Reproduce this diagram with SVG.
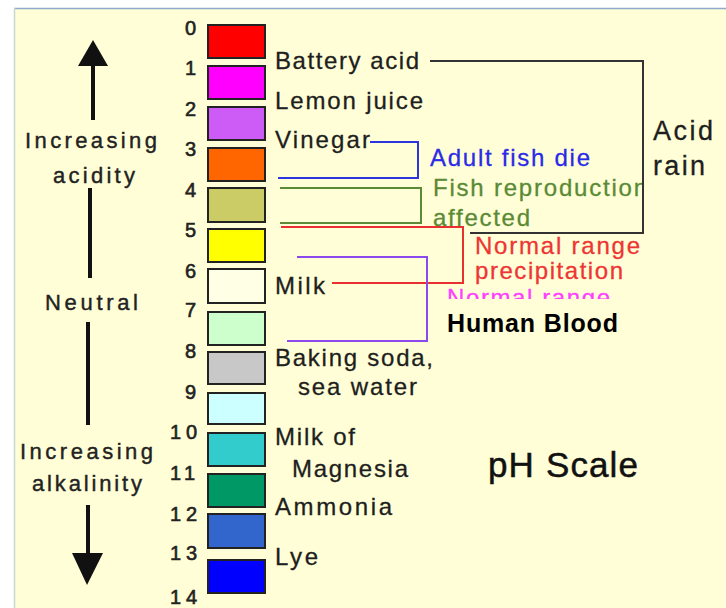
<svg xmlns="http://www.w3.org/2000/svg" width="726" height="608" viewBox="0 0 726 608">
<style>
.lbl{font-family:"Liberation Sans",Arial,sans-serif;font-size:24px;fill:#1e1e1e;stroke:#1e1e1e;stroke-width:0.3}
.num{font-family:"Liberation Sans",Arial,sans-serif;font-size:20px;fill:#222;stroke:#222;stroke-width:0.6}
.side{font-family:"Liberation Sans",Arial,sans-serif;font-size:22px;fill:#222;stroke:#222;stroke-width:0.4}
.box{stroke:#222;stroke-width:2}
.br{fill:none;stroke-width:2}
</style>
<defs>
<clipPath id="clipNR"><rect x="440" y="285" width="200" height="14"/></clipPath>
<clipPath id="clipFR"><rect x="420" y="170" width="222" height="40"/></clipPath>
</defs>
<rect x="0" y="0" width="726" height="608" fill="#ffffff"/>
<rect x="14" y="8" width="712" height="600" fill="#fffed6"/>
<line x1="14" y1="8.5" x2="726" y2="8.5" stroke="#8fa9cf" stroke-width="1.5"/>
<line x1="14.5" y1="8" x2="14.5" y2="608" stroke="#c8d8d0" stroke-width="1.5"/>

<g id="scale-left">
<rect x="91" y="62" width="4" height="58" fill="#111"/>
<polygon points="93,40 78,66 108,66" fill="#111"/>
<text class="side" x="25" y="148" textLength="132" lengthAdjust="spacing">Increasing</text>
<text class="side" x="53" y="183" textLength="82" lengthAdjust="spacing">acidity</text>
<rect x="88" y="188" width="4" height="90" fill="#111"/>
<text class="side" x="45" y="310" textLength="93" lengthAdjust="spacing">Neutral</text>
<rect x="86" y="322" width="4" height="103" fill="#111"/>
<text class="side" x="20" y="459" textLength="133" lengthAdjust="spacing">Increasing</text>
<text class="side" x="32" y="491" textLength="110" lengthAdjust="spacing">alkalinity</text>
<rect x="86" y="505" width="4" height="50" fill="#111"/>
<polygon points="72,553 103,553 87,585" fill="#111"/>
</g>

<g id="numbers">
<text class="num" x="185" y="35">0</text>
<text class="num" x="185" y="75">1</text>
<text class="num" x="185" y="116">2</text>
<text class="num" x="185" y="156">3</text>
<text class="num" x="185" y="197">4</text>
<text class="num" x="185" y="237">5</text>
<text class="num" x="185" y="278">6</text>
<text class="num" x="185" y="317">7</text>
<text class="num" x="185" y="358">8</text>
<text class="num" x="185" y="399">9</text>
<text class="num" x="170" y="439" textLength="27" lengthAdjust="spacing">10</text>
<text class="num" x="170" y="480" textLength="25" lengthAdjust="spacing">11</text>
<text class="num" x="170" y="521" textLength="27" lengthAdjust="spacing">12</text>
<text class="num" x="170" y="560" textLength="27" lengthAdjust="spacing">13</text>
<text class="num" x="170" y="604" textLength="27" lengthAdjust="spacing">14</text>
</g>

<g id="ph0"><rect class="box" x="208" y="25" width="57" height="33" fill="#ff0000"/></g>
<g id="ph1"><rect class="box" x="208" y="66" width="57" height="33" fill="#ff00ff"/></g>
<g id="ph2"><rect class="box" x="208" y="107" width="57" height="33" fill="#cc5cf5"/></g>
<g id="ph3"><rect class="box" x="208" y="148" width="57" height="33" fill="#ff6600"/></g>
<g id="ph4"><rect class="box" x="208" y="188" width="57" height="34" fill="#cccc66"/></g>
<g id="ph5"><rect class="box" x="208" y="229" width="57" height="33" fill="#ffff00"/></g>
<g id="ph6"><rect class="box" x="208" y="269" width="57" height="34" fill="#ffffe6"/></g>
<g id="ph7"><rect class="box" x="208" y="312" width="57" height="33" fill="#ccffcc"/></g>
<g id="ph8"><rect class="box" x="208" y="352" width="57" height="32" fill="#c8c8c8"/></g>
<g id="ph9"><rect class="box" x="208" y="393" width="57" height="31" fill="#ccffff"/></g>
<g id="ph10"><rect class="box" x="208" y="433" width="57" height="33" fill="#33cccc"/></g>
<g id="ph11"><rect class="box" x="208" y="474" width="57" height="33" fill="#009966"/></g>
<g id="ph12"><rect class="box" x="208" y="514" width="57" height="34" fill="#3366cc"/></g>
<g id="ph13"><rect class="box" x="208" y="560" width="57" height="33" fill="#0000ff"/></g>

<g id="substances">
<text class="lbl" x="275" y="69" textLength="144" lengthAdjust="spacing">Battery acid</text>
<text class="lbl" x="275" y="109" textLength="148" lengthAdjust="spacing">Lemon juice</text>
<text class="lbl" x="275" y="148" textLength="95" lengthAdjust="spacing">Vinegar</text>
<text class="lbl" x="275" y="294" textLength="50" lengthAdjust="spacing">Milk</text>
<text class="lbl" x="275" y="366" textLength="158" lengthAdjust="spacing">Baking soda,</text>
<text class="lbl" x="298" y="395" textLength="119" lengthAdjust="spacing">sea water</text>
<text class="lbl" x="275" y="445" textLength="80" lengthAdjust="spacing">Milk of</text>
<text class="lbl" x="292" y="477" textLength="116" lengthAdjust="spacing">Magnesia</text>
<text class="lbl" x="275" y="515" textLength="117" lengthAdjust="spacing">Ammonia</text>
<text class="lbl" x="275" y="565" textLength="43" lengthAdjust="spacing">Lye</text>
</g>

<g id="acid-rain">
<text class="lbl" x="653" y="140" style="font-size:27px" textLength="60" lengthAdjust="spacing">Acid</text>
<text class="lbl" x="653" y="175" style="font-size:27px" textLength="52" lengthAdjust="spacing">rain</text>
</g>
<g id="adult-fish-die">
<text class="lbl" x="430" y="166" style="fill:#2a2ae8;stroke:#2a2ae8" textLength="160" lengthAdjust="spacing">Adult fish die</text>
</g>
<g id="fish-reproduction">
<text class="lbl" x="433" y="196" clip-path="url(#clipFR)" style="fill:#5a8a36;stroke:#5a8a36" textLength="214" lengthAdjust="spacing">Fish reproduction</text>
<text class="lbl" x="433" y="226" style="fill:#5a8a36;stroke:#5a8a36" textLength="97" lengthAdjust="spacing">affected</text>
</g>
<g id="normal-precipitation">
<text class="lbl" x="475" y="254" style="fill:#ee3535;stroke:#ee3535" textLength="165" lengthAdjust="spacing">Normal range</text>
<text class="lbl" x="475" y="279" style="fill:#ee3535;stroke:#ee3535" textLength="148" lengthAdjust="spacing">precipitation</text>
</g>
<g id="human-blood">
<text class="lbl" x="447" y="306" clip-path="url(#clipNR)" style="fill:#ff40ff;stroke:#ff40ff" textLength="163" lengthAdjust="spacing">Normal range</text>
<text x="447" y="332" style="font-family:'Liberation Sans',Arial,sans-serif;font-size:25px;font-weight:bold;fill:#000" textLength="171" lengthAdjust="spacing">Human Blood</text>
</g>
<g id="title">
<text class="lbl" x="488" y="477" style="font-size:35px;fill:#111;stroke:#111;stroke-width:0.5" textLength="150" lengthAdjust="spacing">pH Scale</text>
</g>

<g id="connectors">
<path class="br" stroke="#333" d="M430,61 H643 V233 H470"/>
<path class="br" stroke="#2a35e0" d="M370,142 H418 V178 H278"/>
<path class="br" stroke="#5a8a36" d="M280,188 H421 V223 H280"/>
<path class="br" stroke="#e83030" d="M281,227 H463 V283 H332"/>
<path class="br" stroke="#8a48ee" d="M297,257 H427 V341 H287"/>
</g>
</svg>
